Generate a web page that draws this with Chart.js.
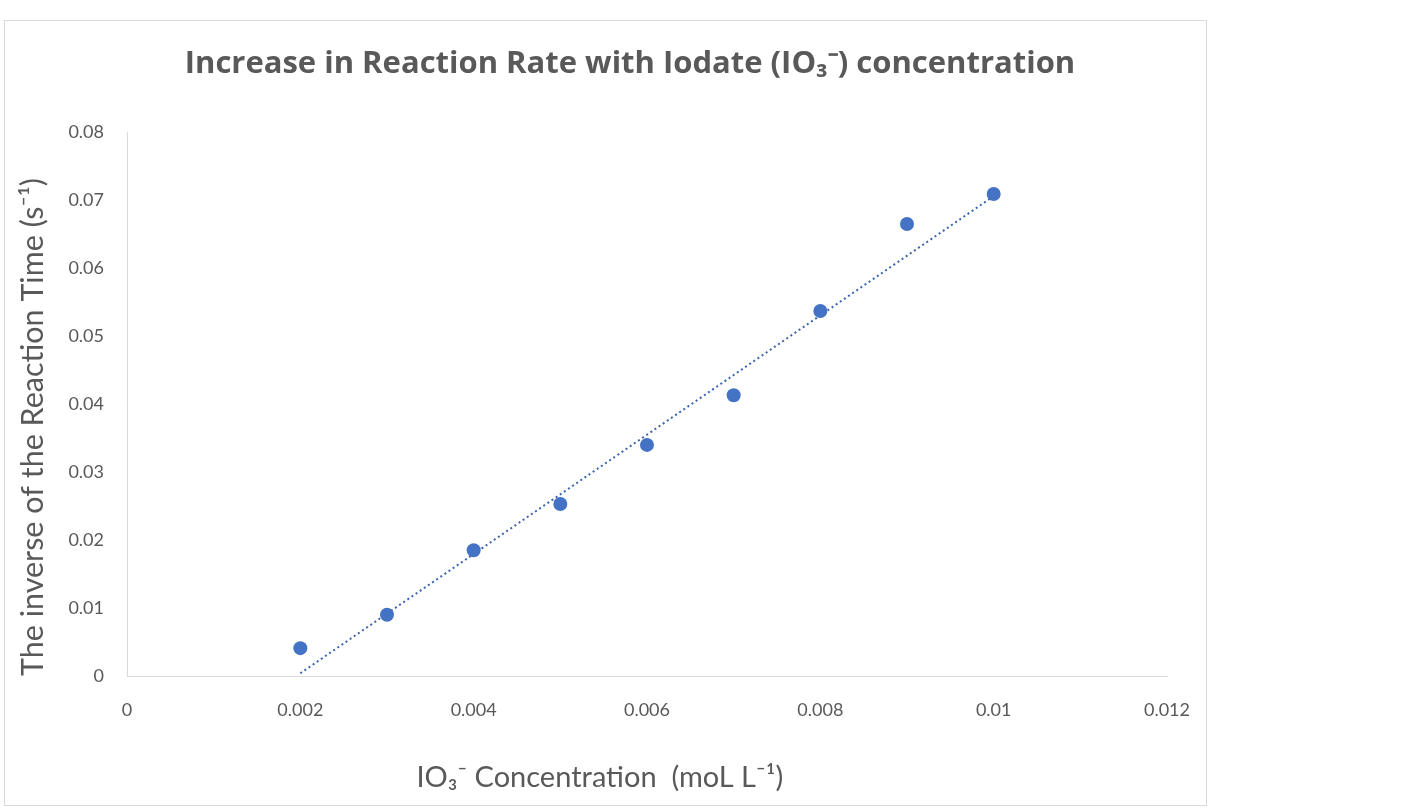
<!DOCTYPE html>
<html>
<head>
<meta charset="utf-8">
<script src="https://cdn.jsdelivr.net/npm/chart.js@4"></script>
<style>
  html, body { margin: 0; padding: 0; background: #ffffff; }
  body { width: 1404px; height: 808px; position: relative; overflow: hidden; }
  /* chart frame like the Excel chart area */
  #frame {
    position: absolute; left: 4px; top: 20px; width: 1201px; height: 784px;
    border: 1px solid #d9d9d9;
  }
  #wrap { position: absolute; left: 0; top: 0; width: 1260px; height: 808px; }
</style>
</head>
<body>
<div id="frame"></div>
<div id="wrap"><canvas id="rateChart"></canvas></div>
<script>
// IO3- concentration (mol/L) and inverse reaction time (1/s)
const concentration = [0.002, 0.003, 0.004, 0.005, 0.006, 0.007, 0.008, 0.009, 0.010];
const inverseTime   = [0.0041, 0.0090, 0.0185, 0.0253, 0.0340, 0.0413, 0.0537, 0.0665, 0.0709];

// linear trendline ends
const trendX = [0.002, 0.010];
const trendY = [0.0004, 0.0706];

const chartTitle = 'Increase in Reaction Rate with Iodate (IO\u2083\u207B) concentration';
const xTitle = 'IO\u2083\u207B Concentration  (moL L\u207B\u00B9)';
const yTitle = 'The inverse of the Reaction Time (s\u207B\u00B9)';

const textGrey = '#595959';
const fmt = v => String(parseFloat(Number(v).toFixed(4)));

const ctx = document.getElementById('rateChart');
new Chart(ctx, {
    type: 'scatter',
    data: {
        datasets: [{
            label: 'Reaction rate',
            data: concentration.map((c, i) => ({ x: c, y: inverseTime[i] })),
            backgroundColor: '#4472C4',
            borderColor: '#4472C4',
            borderWidth: 0,
            pointRadius: 7,
            order: 1
        }, {
            label: 'Linear trend',
            type: 'line',
            data: trendX.map((c, i) => ({ x: c, y: trendY[i] })),
            borderColor: '#3b64ad',
            borderWidth: 2,
            borderDash: [2, 3],
            pointRadius: 0,
            fill: false,
            order: 2
        }]
    },
    options: {
        responsive: true,
        maintainAspectRatio: false,
        animation: false,
        layout: { padding: 0 },
        plugins: {
            legend: { display: false },
            tooltip: { enabled: false },
            title: {
                display: true,
                text: chartTitle,
                color: textGrey,
                font: { family: 'Open Sans', size: 31, weight: 'bold' },
                padding: { top: 46, bottom: 49 }
            }
        },
        scales: {
            x: {
                type: 'linear',
                min: 0, max: 0.012,
                grid: { display: false, drawTicks: false },
                border: { display: true, color: '#d9d9d9', width: 1 },
                ticks: {
                    stepSize: 0.002,
                    padding: 23,
                    color: textGrey,
                    font: { family: 'Lato', size: 18 },
                    callback: fmt
                },
                title: {
                    display: true,
                    text: xTitle + '\u2002\u2002\u2002\u2002\u2002\u2002 ',
                    color: textGrey,
                    font: { family: 'Lato', size: 29 },
                    padding: { top: 0, bottom: 13 }
                },
                afterFit: s => { s.height = 132; }
            },
            y: {
                type: 'linear',
                min: 0, max: 0.08,
                grid: { display: false, drawTicks: false },
                border: { display: true, color: '#d9d9d9', width: 1 },
                ticks: {
                    stepSize: 0.01,
                    padding: 23,
                    color: textGrey,
                    font: { family: 'Lato', size: 18 },
                    callback: fmt
                },
                title: {
                    display: true,
                    text: yTitle,
                    align: 'start',
                    color: textGrey,
                    font: { family: 'Lato', size: 30.5 },
                    padding: { top: 15, bottom: 0 }
                },
                afterFit: s => { s.width = 127; }
            },
            // empty right-hand box: keeps white space right of the plot
            spacer: {
                type: 'linear',
                position: 'right',
                display: true,
                grid: { display: false },
                border: { display: false },
                ticks: { display: false },
                afterFit: s => { s.width = 93; }
            }
        }
    }
});
</script>
</body>
</html>
